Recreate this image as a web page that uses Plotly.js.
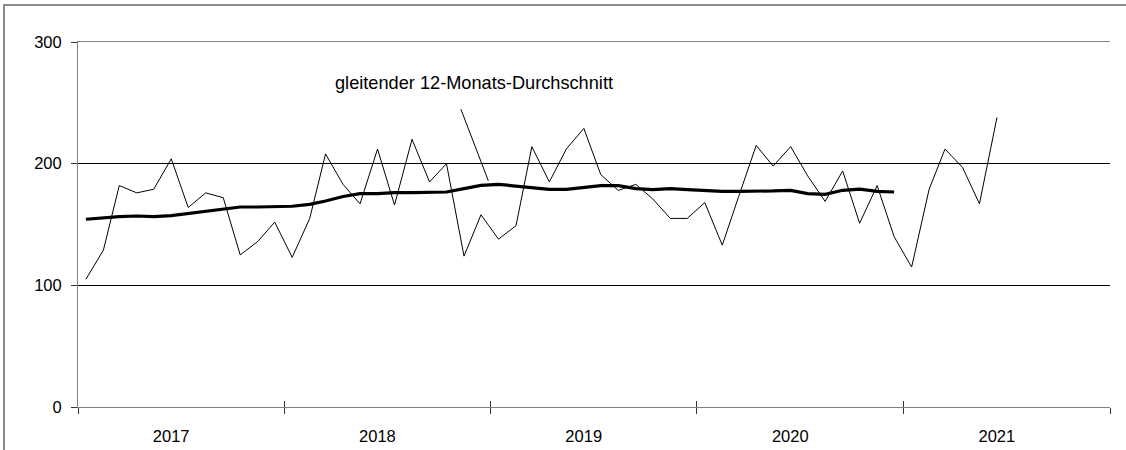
<!DOCTYPE html>
<html>
<head>
<meta charset="utf-8">
<script src="https://cdn.plot.ly/plotly-3.0.1.min.js"></script>
<style>
  html, body { margin: 0; padding: 0; background: #fff; }
  #wrap { position: relative; width: 1126px; height: 450px; overflow: hidden; }
  #chart { position: absolute; left: 0; top: 0; width: 1126px; height: 450px; }
  #frame { position: absolute; left: 3px; top: 4px; width: 1200px; height: 500px;
           border-left: 2px solid #8a8a8a; border-top: 2px solid #8a8a8a; pointer-events: none; }
</style>
</head>
<body>
<div id="wrap"><div id="chart"></div><div id="frame"></div></div>
<script>
// Monthly values, Jan 2017 - Jun 2021
const startYear = 2017;
const values2017 = [105, 129, 182, 176, 179, 204, 164, 176, 172, 125, 136, 152];
const values2018 = [123, 155, 208, 183, 167, 212, 166, 220, 185, 200, 124, 158];
const values2019 = [138, 149, 214, 185, 212, 229, 191, 178, 183, 171, 155, 155];
const values2020 = [168, 133, 173, 215, 198, 214, 190, 169, 194, 151, 182, 140];
const values2021 = [115, 179, 212, 197, 167, 238];

// 12-month moving average, Jan 2017 - Dec 2020
const avg2017 = [154.3, 155.5, 156.5, 157.0, 156.5, 157.3, 159.0, 161.0, 163.0, 164.4, 164.4, 164.4];
const avg2018 = [165.0, 166.6, 169.3, 173.0, 175.4, 175.4, 176.2, 176.2, 176.2, 176.7, 179.5, 182.2];
const avg2019 = [183.0, 181.7, 180.3, 178.9, 178.9, 180.8, 182.0, 182.0, 179.5, 178.7, 179.5, 178.7];
const avg2020 = [177.9, 177.3, 177.3, 177.3, 177.6, 178.1, 175.4, 174.8, 178.1, 179.0, 177.3, 176.7];

const yTickVals = [0, 100, 200, 300];
const annotationText = 'gleitender 12-Monats-Durchschnitt';

const values = [].concat(values2017, values2018, values2019, values2020, values2021);
const avg = [].concat(avg2017, avg2018, avg2019, avg2020);

function monthDate(i) {
  const y = startYear + Math.floor(i / 12);
  const m = (i % 12) + 1;
  return y + '-' + String(m).padStart(2, '0') + '-15';
}
const xValues = values.map((_, i) => monthDate(i));
const xAvg = avg.map((_, i) => monthDate(i));

const font = { family: 'Liberation Sans, Arial, sans-serif', size: 16.5, color: '#000' };

const traces = [
  { x: xValues, y: values, type: 'scatter', mode: 'lines',
    line: { color: '#000', width: 1 }, hoverinfo: 'skip' },
  { x: xAvg, y: avg, type: 'scatter', mode: 'lines',
    line: { color: '#000', width: 3.2 }, hoverinfo: 'skip' },
  { x: [xValues[0]], y: [null], xaxis: 'x2', type: 'scatter', mode: 'lines', hoverinfo: 'skip' }
];

const xRange = ['2017-01-01', '2022-01-01'];

const layout = {
  width: 1126, height: 450,
  margin: { l: 78, r: 16, t: 42, b: 43 },
  paper_bgcolor: '#fff', plot_bgcolor: '#fff',
  showlegend: false,
  font: font,
  xaxis: {
    type: 'date', range: xRange,
    tick0: '2017-01-01', dtick: 'M12', tickformat: '%Y',
    ticklabelmode: 'period', ticklabelshift: -10,
    ticks: 'outside', ticklen: 6, tickcolor: '#333', tickwidth: 1,
    showgrid: false, zeroline: false,
    showline: true, linecolor: '#808080', linewidth: 1,
    mirror: true,
    tickfont: font, ticklabelstandoff: 8
  },
  xaxis2: {
    type: 'date', range: xRange, overlaying: 'x', anchor: 'y',
    tick0: '2017-01-01', dtick: 'M12',
    ticks: 'inside', ticklen: 6, tickcolor: '#333', tickwidth: 1,
    showticklabels: false, showgrid: false, zeroline: false, showline: false
  },
  yaxis: {
    range: [0, 300], tickvals: yTickVals, ticktext: yTickVals.map(String),
    ticks: 'outside', ticklen: 6, tickcolor: '#333', tickwidth: 1,
    showgrid: true, gridcolor: '#000', gridwidth: 1,
    zeroline: false,
    showline: true, linecolor: '#808080', linewidth: 1,
    tickfont: font, ticklabelstandoff: 6
  },
  annotations: [
    { xref: 'x', yref: 'y', x: '2018-12-28', y: 186,
      text: '', showarrow: true, arrowhead: 0, arrowwidth: 1, arrowcolor: '#000',
      axref: 'pixel', ayref: 'pixel', ax: -28, ay: -73, standoff: 0, startstandoff: 0 },
    { xref: 'paper', yref: 'paper', x: (333 - 78) / 1032, y: (407 - 83) / 365,
      xanchor: 'left', yanchor: 'middle', showarrow: false,
      text: annotationText, font: { family: font.family, size: 18.2, color: '#000' } }
  ]
};

Plotly.newPlot('chart', traces, layout, { staticPlot: true, displayModeBar: false });
</script>
</body>
</html>
